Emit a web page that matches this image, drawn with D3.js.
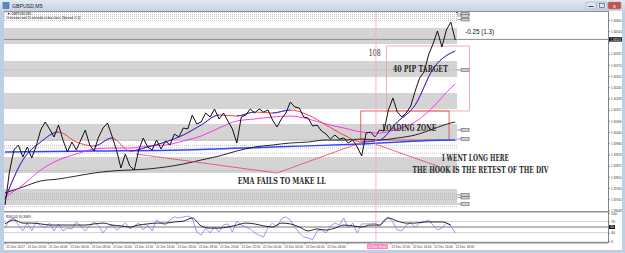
<!DOCTYPE html>
<html>
<head>
<meta charset="utf-8">
<script src="https://cdn.jsdelivr.net/npm/d3@7"></script>
<style>
body { margin: 0; background: #fff; overflow: hidden; }
svg { display: block; font-family: "Liberation Sans", Arial, sans-serif; }
</style>
</head>
<body>
<svg id="chart" width="625" height="253"></svg>
<script>
// GBPUSD M5 closes, one value every 5 bars
var closes = [
  1.33675,1.33840,1.33950,1.33975,1.33915,1.33965,1.33910,1.33970,1.34050,1.34090,
  1.34055,1.34015,1.34075,1.34000,1.33940,1.33990,1.33950,1.34000,1.34050,1.33975,
  1.33945,1.34015,1.34060,1.34085,1.34020,1.33950,1.33860,1.33930,1.33870,1.33850,
  1.33950,1.34010,1.33965,1.33950,1.34000,1.33955,1.33995,1.33975,1.34030,1.34015,
  1.34060,1.34055,1.34125,1.34080,1.34090,1.34135,1.34115,1.34155,1.34105,1.34135,
  1.34095,1.34055,1.33985,1.34115,1.34125,1.34155,1.34135,1.34155,1.34140,1.34150,
  1.34100,1.34065,1.34105,1.34135,1.34190,1.34165,1.34160,1.34115,1.34110,1.34070,
  1.34075,1.34045,1.34030,1.34005,1.34025,1.34005,1.34010,1.33985,1.34000,1.33965,
  1.33920,1.34035,1.34040,1.34015,1.34050,1.34045,1.34150,1.34210,1.34140,1.34115,
  1.34135,1.34170,1.34245,1.34310,1.34340,1.34425,1.34480,1.34545,1.34465,1.34550,
  1.34590,1.34500
];
var sampleBars = 5;

// moving averages, one value every 4 samples (last one = last sample)
var emaFast = [1.33705,1.33900,1.33990,1.34040,1.33990,1.33970,1.34010,1.33945,1.33965,1.33990,
  1.34025,1.34075,1.34125,1.34120,1.34140,1.34135,1.34150,1.34125,1.34075,1.34025,
  1.33990,1.34000,1.34090,1.34175,1.34355,1.34435,1.34445];
var emaSlow = [1.33715,1.33775,1.33850,1.33900,1.33930,1.33955,1.33960,1.33960,1.33970,1.33975,
  1.33995,1.34020,1.34060,1.34095,1.34105,1.34115,1.34120,1.34105,1.34080,1.34060,
  1.34040,1.34035,1.34055,1.34090,1.34165,1.34260,1.34280];
var sma200 = [1.33735,1.33765,1.33795,1.33805,1.33820,1.33835,1.33845,1.33850,1.33855,1.33865,
  1.33880,1.33900,1.33920,1.33945,1.33965,1.33975,1.33985,1.33990,1.34000,1.34000,
  1.34005,1.34000,1.34010,1.34025,1.34055,1.34085,1.34090];
var maStep = 4;
// long MA, one value every 20 samples
var maLong = [1.33940,1.33945,1.33950,1.33965,1.33980,1.34000,1.34000];
var maLongStep = 20;

// RSI
var rsiFast = [
  46,75,82,57,36,64,36,68,54,46, 64,36,61,36,46,43,68,54,36,54,
  68,54,29,50,57,39,50,64,43,54, 64,39,57,36,75,64,57,75,86,82,
  86,89,82,32,21,46,29,50,32,57, 61,32,71,57,50,43,29,21,14,50,
  64,50,79,86,75,50,29,14,11,4,  36,39,29,54,64,57,82,46,64,29,
  61,61,61,64,54,75,86,68,39,36, 57,64,50,64,68,75,57,39,46,64,
  54,29
];
var rsiSlow = [
  61,75,64,64,61,57,57,57,57,57, 61,64,57,54,50,57,61,64,64,68,
  71,82,54,46,46,50,57,64,61,54, 50,64,61,50,36,43,39,46,57,54,
  50,57,57,82,71,64,64,68,68,68, 57
];
var rsiStep = 2;
var rsiLevels = [70, 50, 30];
var rsiTicks = [100, 70, 30, 0];

// zones drawn on the chart
var bandTops = [1.34560, 1.34395, 1.34235, 1.34080, 1.33915, 1.33755];
var bandBottoms = [1.34480, 1.34315, 1.34155, 1.33995, 1.33835, 1.33675];
var dottedLevels = [1.34637, 1.34627, 1.34617, 1.34607, 1.34597, 1.34350, 1.34000, 1.33972,
  1.33960, 1.33934, 1.33847, 1.33729, 1.33717, 1.33704, 1.33667];
var labelLevels = [1.34630, 1.34620, 1.34602, 1.34350, 1.34050, 1.34005, 1.33725, 1.33712, 1.33680];
var bidPrice = 1.34503;

// trendlines [bar, price]
var trendLines = [
  [[147, 1.33930], [305, 1.33835]],
  [[305, 1.33835], [401, 1.33990]],
  [[415, 1.33980], [488, 1.33865]]
];
var pipBox = { bar0: 428, bar1: 521, top: 1.34470, bottom: 1.34145 };
var loadBox = { bar0: 399, bar1: 498, top: 1.34145, bottom: 1.34000 };
var crossBar = 416;
var crossLabel = '22 Dec 10:40';

// axis labels
var priceTicks = [1.34600,1.34544,1.34488,1.34432,1.34376,1.34320,1.34264,1.34208,1.34152,
  1.34096,1.34040,1.33984,1.33928,1.33872,1.33816,1.33760,1.33704,1.33648];
var timeLabels = ['21 Dec 2017','21 Dec 02:00','21 Dec 04:00','21 Dec 06:00','21 Dec 08:00',
  '21 Dec 10:00','21 Dec 12:00','21 Dec 14:00','21 Dec 16:00','21 Dec 18:00','21 Dec 20:00',
  '21 Dec 22:00','22 Dec 00:00','22 Dec 02:00','22 Dec 04:00','22 Dec 06:00','22 Dec 08:00',
  '22 Dec 10:00','22 Dec 12:00','22 Dec 14:00','22 Dec 16:00','22 Dec 18:00'];
var barsPerLabel = 24;

// notes written on the chart
var notes = [
  { text: '40 PIP TARGET', bar: 435, price: 1.34340, w: 55, size: 9, bold: true },
  { text: 'LOADING ZONE', bar: 423, price: 1.34045, w: 54, size: 9, bold: true },
  { text: 'I WENT LONG HERE', bar: 490, price: 1.33895, w: 67, size: 9, bold: true },
  { text: 'THE HOOK IS THE RETEST OF THE DIV', bar: 457, price: 1.33835, w: 136, size: 9, bold: true },
  { text: 'EMA FAILS TO MAKE LL', bar: 261, price: 1.33780, w: 88, size: 9, bold: true },
  { text: '108', bar: 408, price: 1.34420, w: 12, size: 9, bold: false }
];

var W = 625, H = 253;
var svg = d3.select('#chart');
var defs = svg.append('defs');

var xBar = d3.scaleLinear().domain([0, 504]).range([5, 454.4]);
var yPrice = d3.scaleLinear().domain([1.34640, 1.33645]).range([12, 211]);
var yRsi = d3.scaleLinear().domain([0, 100]).range([241, 213]);
var xEnd = xBar(507);

//window frame
var grad = defs.append('linearGradient').attr('id', 'titleGrad')
  .attr('x1', 0).attr('y1', 0).attr('x2', 0).attr('y2', 1);
grad.append('stop').attr('offset', '0%').attr('stop-color', '#e2e9f2');
grad.append('stop').attr('offset', '100%').attr('stop-color', '#c6d3e3');
svg.append('rect').attr('width', W).attr('height', H).attr('fill', '#bccfe5');
svg.append('rect').attr('width', W).attr('height', 11).attr('fill', 'url(#titleGrad)');
svg.append('rect').attr('x', 3).attr('y', 2.5).attr('width', 6).attr('height', 6)
  .attr('fill', '#5b8ac7').attr('stroke', '#2f5f9c').attr('stroke-width', 0.5);
svg.append('text').attr('x', 12).attr('y', 8).attr('font-size', 5.2).attr('fill', '#222')
  .text('GBPUSD,M5');
[[586, '#dfe6ef'], [597, '#dfe6ef'], [608, '#c9504a']].forEach(function(b, i) {
  svg.append('rect').attr('x', b[0]).attr('y', 2).attr('width', i == 2 ? 13 : 10).attr('height', 7)
    .attr('rx', 1).attr('fill', b[1]).attr('stroke', '#8a9bb0').attr('stroke-width', 0.5);
});
svg.append('text').attr('x', 614.5).attr('y', 7.8).attr('font-size', 6).attr('fill', '#fff')
  .attr('text-anchor', 'middle').text('x');
svg.append('rect').attr('x', 588.5).attr('y', 6).attr('width', 5).attr('height', 1).attr('fill', '#445');
svg.append('rect').attr('x', 599.5).attr('y', 3.5).attr('width', 5).attr('height', 4)
  .attr('fill', 'none').attr('stroke', '#445').attr('stroke-width', 0.6);

//chart window
svg.append('rect').attr('x', 4).attr('y', 11).attr('width', 618).attr('height', 239).attr('fill', '#fff');

defs.append('clipPath').attr('id', 'mainClip').append('rect')
  .attr('x', 4).attr('y', 12).attr('width', 604).attr('height', 199);
var main = svg.append('g').attr('clip-path', 'url(#mainClip)');

//zones
bandTops.forEach(function(t, i) {
  main.append('rect').attr('x', 4).attr('y', yPrice(t))
    .attr('width', xEnd - 4).attr('height', yPrice(bandBottoms[i]) - yPrice(t))
    .attr('fill', '#d4d4d4');
});
dottedLevels.forEach(function(p) {
  main.append('line').attr('x1', 4).attr('x2', xEnd)
    .attr('y1', yPrice(p)).attr('y2', yPrice(p))
    .attr('stroke', '#9a9a9a').attr('stroke-width', 0.6).attr('stroke-dasharray', '1,1');
});
labelLevels.forEach(function(p) {
  var y = yPrice(p);
  main.append('line').attr('x1', xEnd).attr('x2', xEnd + 4).attr('y1', y).attr('y2', y)
    .attr('stroke', '#555').attr('stroke-width', 0.6);
  main.append('rect').attr('x', xEnd + 4).attr('y', y - 1.4).attr('width', 8).attr('height', 2.8)
    .attr('fill', '#cfcfcf').attr('stroke', '#444').attr('stroke-width', 0.5);
});
// bid line
main.append('line').attr('x1', 4).attr('x2', 608)
  .attr('y1', yPrice(bidPrice)).attr('y2', yPrice(bidPrice))
  .attr('stroke', '#8c8c8c').attr('stroke-width', 1);

//boxes
[[pipBox, '#f29a9a'], [loadBox, '#e23c3c']].forEach(function(b) {
  var r = b[0];
  main.append('rect').attr('x', xBar(r.bar0)).attr('y', yPrice(r.top))
    .attr('width', xBar(r.bar1) - xBar(r.bar0)).attr('height', yPrice(r.bottom) - yPrice(r.top))
    .attr('fill', 'none').attr('stroke', b[1]).attr('stroke-width', 0.8);
});

//crosshair
svg.append('line').attr('x1', xBar(crossBar)).attr('x2', xBar(crossBar))
  .attr('y1', 12).attr('y2', 243).attr('stroke', '#f5a3d2').attr('stroke-width', 0.8);

//moving averages
function maLine(step) {
  return d3.line().curve(d3.curveMonotoneX)
    .x(function(d, i) { return xBar(Math.min(i * step, closes.length - 1) * sampleBars); })
    .y(function(d) { return yPrice(d); });
}
main.append('path').attr('d', maLine(maLongStep)(maLong))
  .attr('fill', 'none').attr('stroke', '#3344ff').attr('stroke-width', 1.4);
main.append('path').attr('d', maLine(maStep)(sma200))
  .attr('fill', 'none').attr('stroke', '#111').attr('stroke-width', 0.9);
main.append('path').attr('d', maLine(maStep)(emaSlow))
  .attr('fill', 'none').attr('stroke', '#ff22ee').attr('stroke-width', 0.9);

// fast EMA is red while falling, blue while rising
var rising = defs.append('clipPath').attr('id', 'risingClip');
emaFast.forEach(function(v, i) {
  if (i == 0 || v < emaFast[i - 1]) return;
  var xa = xBar(Math.min((i - 1) * maStep, closes.length - 1) * sampleBars);
  var xb = xBar(Math.min(i * maStep, closes.length - 1) * sampleBars);
  rising.append('rect').attr('x', xa).attr('y', 0).attr('width', xb - xa).attr('height', H);
});
main.append('path').attr('d', maLine(maStep)(emaFast))
  .attr('fill', 'none').attr('stroke', '#ff2a2a').attr('stroke-width', 0.9);
main.append('path').attr('d', maLine(maStep)(emaFast)).attr('clip-path', 'url(#risingClip)')
  .attr('fill', 'none').attr('stroke', '#1f2bff').attr('stroke-width', 0.9);

//trendlines
trendLines.forEach(function(t) {
  main.append('line')
    .attr('x1', xBar(t[0][0])).attr('y1', yPrice(t[0][1]))
    .attr('x2', xBar(t[1][0])).attr('y2', yPrice(t[1][1]))
    .attr('stroke', '#e8425e').attr('stroke-width', 0.8);
});

//price
var priceLine = d3.line()
  .x(function(d, i) { return xBar(i * sampleBars); })
  .y(function(d) { return yPrice(d); });
main.append('path').attr('d', priceLine(closes))
  .attr('fill', 'none').attr('stroke', '#111').attr('stroke-width', 1);

//notes
notes.forEach(function(n) {
  main.append('text').attr('x', xBar(n.bar)).attr('y', yPrice(n.price))
    .attr('font-family', '"DejaVu Serif", "Liberation Serif", serif')
    .attr('font-weight', n.bold ? 'bold' : 'normal')
    .attr('font-size', n.size).attr('fill', '#2a2a2a')
    .attr('textLength', n.w).attr('lengthAdjust', 'spacingAndGlyphs')
    .text(n.text);
});
main.append('text').attr('x', xBar(516)).attr('y', yPrice(1.34528))
  .attr('font-size', 6.5).attr('fill', '#111')
  .attr('textLength', 29).attr('lengthAdjust', 'spacingAndGlyphs')
  .text('-0.25 (1.3)');

// header texts
svg.append('text').attr('x', 7).attr('y', 14.5).attr('font-size', 3.4).attr('fill', '#222')
  .text('\u25bc GBPUSD,M5');
svg.append('text').attr('x', 7).attr('y', 18.5).attr('font-size', 3.4).attr('fill', '#222')
  .attr('textLength', 73).attr('lengthAdjust', 'spacingAndGlyphs')
  .text('0 minutes and 20 seconds to bar close. [Spread: 1.3]');
svg.append('path').attr('d', 'M' + (xEnd - 1.5) + ',11 h3 l-1.5,2.5 z').attr('fill', '#111');

//price axis
var axisP = d3.axisRight(yPrice).tickValues(priceTicks).tickSize(2).tickPadding(1)
  .tickFormat(d3.format('.5f'));
var gP = svg.append('g').attr('transform', 'translate(608,0)').call(axisP).attr('font-size', 4);
gP.select('.domain').remove();
gP.selectAll('line').attr('stroke', '#444').attr('stroke-width', 0.5);
gP.selectAll('text').attr('font-size', 4).attr('fill', '#333')
  .attr('textLength', 10.5).attr('lengthAdjust', 'spacingAndGlyphs');
// the bid box hides the tick label under it
gP.selectAll('.tick').filter(function(d) { return Math.abs(yPrice(d) - yPrice(bidPrice)) < 5; })
  .select('text').remove();
svg.append('rect').attr('x', 609).attr('y', yPrice(bidPrice) - 2.2).attr('width', 13).attr('height', 4.4)
  .attr('fill', '#111');
svg.append('text').attr('x', 610.5).attr('y', yPrice(bidPrice) + 1.4).attr('font-size', 4)
  .attr('fill', '#fff').attr('textLength', 10.5).attr('lengthAdjust', 'spacingAndGlyphs')
  .text(d3.format('.5f')(bidPrice));

//RSI window
var gR = svg.append('g');
rsiLevels.forEach(function(l) {
  gR.append('line').attr('x1', 4).attr('x2', 608).attr('y1', yRsi(l)).attr('y2', yRsi(l))
    .attr('stroke', l == 50 ? '#777' : '#bdbdbd').attr('stroke-width', l == 50 ? 1 : 0.7);
});
gR.append('path').attr('d', d3.line()
    .x(function(d, i) { return xBar(i * sampleBars); })
    .y(function(d) { return yRsi(d); })(rsiFast))
  .attr('fill', 'none').attr('stroke', '#7c7cff').attr('stroke-width', 0.8);
gR.append('path').attr('d', d3.line().curve(d3.curveMonotoneX)
    .x(function(d, i) { return xBar(i * rsiStep * sampleBars); })
    .y(function(d) { return yRsi(d); })(rsiSlow))
  .attr('fill', 'none').attr('stroke', '#111').attr('stroke-width', 0.9);
gR.append('text').attr('x', 6).attr('y', 217.5).attr('font-size', 3.4).attr('fill', '#222')
  .text('RSI(14) 30.3669');
var axisR = d3.axisRight(yRsi).tickValues(rsiTicks).tickSize(2).tickPadding(1);
var gRA = svg.append('g').attr('transform', 'translate(608,0)').call(axisR).attr('font-size', 3.6);
gRA.select('.domain').remove();
gRA.selectAll('line').attr('stroke', '#444').attr('stroke-width', 0.5);
gRA.selectAll('text').attr('font-size', 3.6).attr('fill', '#333');
svg.append('rect').attr('x', 609).attr('y', yRsi(50) - 2).attr('width', 6).attr('height', 4).attr('fill', '#111');
svg.append('text').attr('x', 610).attr('y', yRsi(50) + 1.3).attr('font-size', 3.6).attr('fill', '#fff').text('50');

//panel borders
[[11.5, 1], [211.8, 1.6], [242.6, 1.6]].forEach(function(b) {
  svg.append('line').attr('x1', 4).attr('x2', 608).attr('y1', b[0]).attr('y2', b[0])
    .attr('stroke', '#8f8f8f').attr('stroke-width', b[1]);
});
svg.append('line').attr('x1', 608.5).attr('x2', 608.5).attr('y1', 11).attr('y2', 243)
  .attr('stroke', '#666').attr('stroke-width', 0.8);

//time axis
var timeTicks = timeLabels.map(function(d, i) { return i * barsPerLabel; });
var axisT = d3.axisBottom(xBar).tickValues(timeTicks).tickSize(1.5).tickPadding(0.5)
  .tickFormat(function(d, i) { return timeLabels[i]; });
var gT = svg.append('g').attr('transform', 'translate(0,243)').call(axisT).attr('font-size', 3.3);
gT.select('.domain').remove();
gT.selectAll('line').attr('stroke', '#444').attr('stroke-width', 0.5);
gT.selectAll('text').attr('font-size', 3.3).attr('fill', '#333').attr('text-anchor', 'start')
  .attr('dx', 0.8).attr('dy', '0.9em')
  .attr('textLength', 18.5).attr('lengthAdjust', 'spacingAndGlyphs');
// the crosshair label covers the time labels next to it
var crossX = xBar(crossBar);
gT.selectAll('.tick').filter(function(d) { return Math.abs(xBar(d) + 10 - crossX) < 20; })
  .select('text').remove();
svg.append('rect').attr('x', crossX - 9).attr('y', 244).attr('width', 21).attr('height', 5)
  .attr('fill', '#ff85c8');
svg.append('text').attr('x', crossX - 8).attr('y', 248).attr('font-size', 3.3).attr('fill', '#fff')
  .attr('textLength', 18.5).attr('lengthAdjust', 'spacingAndGlyphs').text(crossLabel);
</script>
</body>
</html>
